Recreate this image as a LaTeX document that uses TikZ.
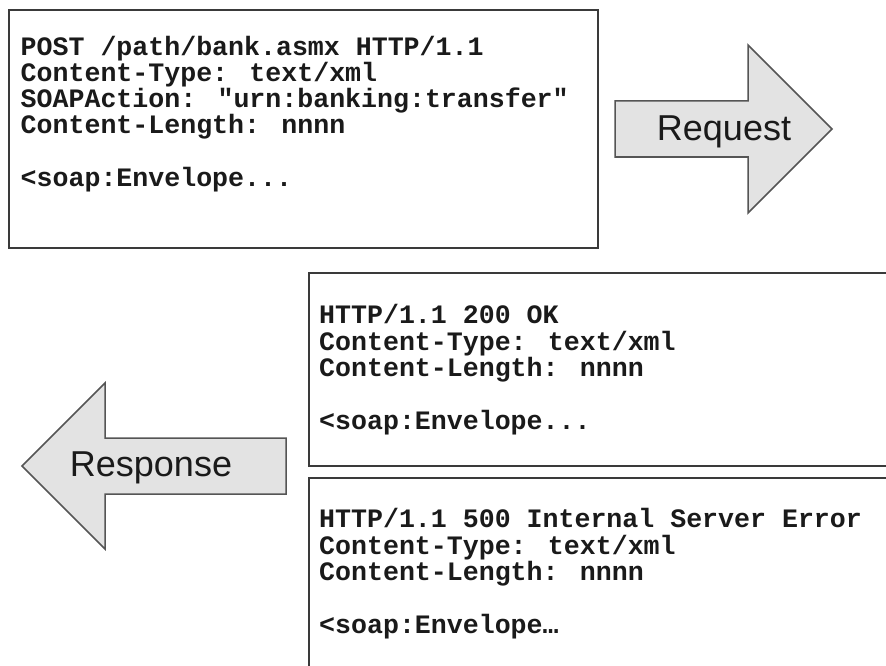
\documentclass[tikz,border=0pt]{standalone}
\usepackage{fontspec}
\setmainfont{Liberation Sans}
\newfontfamily\codefont{Liberation Mono}
\definecolor{boxc}{HTML}{3A3A3A}
\definecolor{arrc}{HTML}{555555}
\definecolor{arrfill}{HTML}{E3E3E3}
\definecolor{txt}{HTML}{1A1A1A}
\begin{document}
\begin{tikzpicture}[x=1pt,y=-1pt,
  box/.style={draw=boxc, line width=2pt},
  code/.style={font=\codefont\bfseries\fontsize{26.6}{26.3}\selectfont, text=txt, align=left, anchor=base west, inner sep=0pt},
  bigarrow/.style={draw=arrc, fill=arrfill, line width=1.5pt, line join=miter},
  arrowlabel/.style={font=\fontsize{36}{40}\selectfont, text=txt, anchor=base, inner sep=0pt}]
\useasboundingbox (0,0) rectangle (886,666);
\clip (0,0) rectangle (886,666);
% request box
\coordinate (reqTL) at (9,10);
\coordinate (reqBR) at (598,248);
\draw[box] (reqTL) rectangle (reqBR);
% (the base anchor of a multi-line node is the baseline of its last line)
\node[code] (reqtext) at (20.5,186.5) {POST /path/bank.asmx HTTP/1.1\\Content-Type: text/xml\\SOAPAction: "urn:banking:transfer"\\Content-Length: nnnn\\[26.3pt]<soap:Envelope...};
% request arrow
\draw[bigarrow] (615,101) -- (748,101) -- (748,45) -- (832,129) -- (748,213) -- (748,157) -- (615,157) -- cycle;
\node[arrowlabel] (reqlabel) at (724,140) {Request};
% response boxes
\coordinate (okTL) at (309,273);
\coordinate (okBR) at (900,466);
\draw[box] (okTL) rectangle (okBR);
\node[code] (oktext) at (319,429) {HTTP/1.1 200 OK\\Content-Type: text/xml\\Content-Length: nnnn\\[26.3pt]<soap:Envelope...};
\coordinate (errTL) at (309,478);
\coordinate (errBR) at (900,700);
\draw[box] (errTL) rectangle (errBR);
\node[code] (errtext) at (319,633) {HTTP/1.1 500 Internal Server Error\\Content-Type: text/xml\\Content-Length: nnnn\\[26.3pt]<soap:Envelope…};
% response arrow
\draw[bigarrow] (286,438) -- (105,438) -- (105,383) -- (22,466) -- (105,549) -- (105,494) -- (286,494) -- cycle;
\node[arrowlabel] (resplabel) at (151,476) {Response};
\end{tikzpicture}
\end{document}
